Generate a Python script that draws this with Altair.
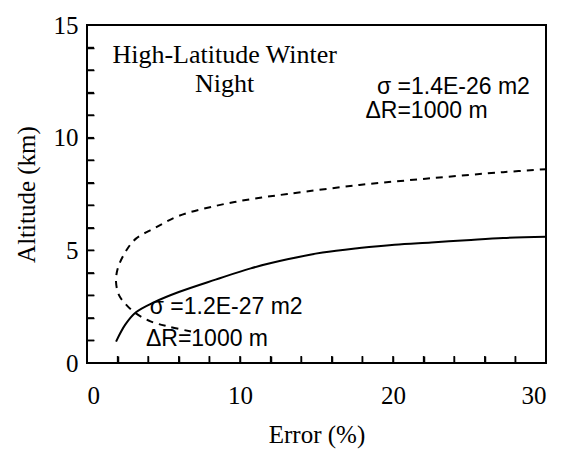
import altair as alt
import pandas as pd

# Solid curve: sigma = 1.2E-27 m2, dR = 1000 m
solid_x = [1.9, 2.5, 3.2, 4.4, 6.0, 8.4, 10.7, 13.1, 15.4, 17.8, 20.1, 22.5, 24.8, 27.2, 30.0]
solid_y = [0.95, 1.7, 2.25, 2.7, 3.15, 3.7, 4.2, 4.6, 4.9, 5.1, 5.25, 5.35, 5.45, 5.55, 5.6]

# Dashed curve: sigma = 1.4E-26 m2, dR = 1000 m
dash_x = [6.8, 5.3, 4.15, 3.2, 2.6, 2.1, 1.9, 2.0, 2.5, 3.2, 4.4, 6.0, 8.4, 10.7, 13.1, 17.8, 22.5, 27.2, 30.0]
dash_y = [1.4, 1.62, 1.85, 2.2, 2.56, 3.0, 3.57, 4.17, 4.92, 5.52, 5.98, 6.53, 6.97, 7.27, 7.5, 7.9, 8.2, 8.47, 8.6]

x_labels = [0, 10, 20, 30]
y_labels = [0, 5, 10, 15]
x_minor = [2, 4, 6, 8, 10, 12, 14, 16, 18, 20, 22, 24, 26, 28]
y_minor = [1, 2, 3, 4, 5, 6, 7, 8, 9, 10, 11, 12, 13, 14]

title_lines = ["High-Latitude Winter", "Night"]
title_x = [9.0, 9.0]
title_y = [13.65, 12.4]

ann_text = ["σ =1.4E-26 m2", "ΔR=1000 m", "σ =1.2E-27 m2", "ΔR=1000 m"]
ann_x = [18.95, 18.2, 4.1, 3.85]
ann_y = [12.25, 11.17, 2.49, 1.07]

W, H = 459, 338
xscale = alt.Scale(domain=[0, 30], nice=False, zero=False)
yscale = alt.Scale(domain=[0, 15], nice=False, zero=False)
xaxis = alt.Axis(values=x_labels, title="Error (%)", labelPadding=20, titlePadding=14,
                 format="d", orient="bottom")
yaxis = alt.Axis(values=y_labels, title="Altitude (km)", labelPadding=9, titlePadding=14,
                 format="d", orient="left")

# axes that only draw the inward-pointing minor ticks
xtick_axis = alt.Axis(orient="bottom", offset=-7, values=x_minor, ticks=True, tickSize=7,
                      tickWidth=1.5, tickColor="black", labels=False, domain=False,
                      grid=False, title="")
ytick_axis = alt.Axis(orient="left", offset=-7, values=y_minor, ticks=True, tickSize=7,
                      tickWidth=1.5, tickColor="black", labels=False, domain=False,
                      grid=False, title="")

solid_df = pd.DataFrame({"x": solid_x, "y": solid_y, "i": range(len(solid_x))})
dash_df = pd.DataFrame({"x": dash_x, "y": dash_y, "i": range(len(dash_x))})


def X(f):
    return alt.X(f, scale=xscale, axis=None)


def Y(f):
    return alt.Y(f, scale=yscale, axis=None)


solid = alt.Chart(solid_df).mark_line(
    color="black", strokeWidth=2, interpolate="catmull-rom"
).encode(
    x=alt.X("x:Q", scale=xscale, axis=xaxis),
    y=alt.Y("y:Q", scale=yscale, axis=yaxis),
    order="i:Q",
)

dashed = alt.Chart(dash_df).mark_line(
    color="black", strokeWidth=2, strokeDash=[7, 6], interpolate="catmull-rom"
).encode(x=X("x:Q"), y=Y("y:Q"), order="i:Q")

yt = alt.Chart(pd.DataFrame({"ty": y_minor})).mark_tick(
    orient="horizontal", size=7, thickness=1.5, color="black", opacity=1
).encode(y=alt.Y("ty:Q", scale=yscale, axis=ytick_axis), x=alt.value(3.5))

xt = alt.Chart(pd.DataFrame({"tx": x_minor})).mark_tick(
    orient="vertical", size=7, thickness=1.5, color="black", opacity=1
).encode(x=alt.X("tx:Q", scale=xscale, axis=xtick_axis), y=alt.value(H - 3.5))

ttl = alt.Chart(pd.DataFrame({"t": title_lines, "x": title_x, "y": title_y})).mark_text(
    font="Liberation Serif", fontSize=26, align="center", baseline="middle", color="black"
).encode(x=X("x:Q"), y=Y("y:Q"), text="t:N")

ann = alt.Chart(pd.DataFrame({"t": ann_text, "x": ann_x, "y": ann_y})).mark_text(
    font="Liberation Sans", fontSize=23, align="left", baseline="middle", color="black"
).encode(x=X("x:Q"), y=Y("y:Q"), text="t:N")

chart = alt.layer(solid, dashed, ttl, ann, yt, xt).resolve_axis(
    x="independent", y="independent"
).properties(
    width=W, height=H,
    autosize=alt.AutoSizeParams(type="none"),
    padding={"left": 79, "top": 17, "right": 10, "bottom": 88},
    background="white",
).configure_view(
    stroke="black", strokeWidth=2
).configure_axis(
    domain=False, ticks=False, grid=False,
    labelFont="Liberation Serif", labelFontSize=25, labelColor="black",
    titleFont="Liberation Serif", titleFontSize=25, titleFontWeight="normal", titleColor="black",
)

chart.save("out.html", embed_options={"renderer": "svg", "actions": False})
